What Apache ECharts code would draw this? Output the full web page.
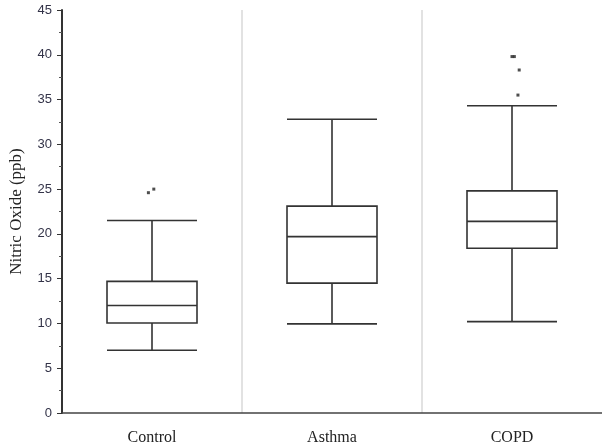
<!DOCTYPE html>
<html><head><meta charset="utf-8">
<script src="https://cdn.jsdelivr.net/npm/echarts@6/dist/echarts.min.js"></script>
<style>html,body{margin:0;padding:0;background:#fff}#c{width:602px;height:447px}</style>
</head><body><div id="c"></div>
<script>
const categories = ['Control', 'Asthma', 'COPD'];
// [lower whisker, Q1, median, Q3, upper whisker]
const boxValues = [
  [7.0, 10.05, 12.0, 14.7, 21.5],
  [9.95, 14.5, 19.7, 23.1, 32.8],
  [10.2, 18.4, 21.4, 24.8, 34.3]
];
// outliers
const outlierCats = ['Control', 'Control', 'COPD', 'COPD', 'COPD', 'COPD'];
const outlierVals = [24.6, 25.0, 39.8, 39.8, 38.3, 35.5];
const outlierOffsets = [-0.02, 0.01, 0.0, 0.013, 0.04, 0.033];
const yTicks = [0, 5, 10, 15, 20, 25, 30, 35, 40, 45];

const chart = echarts.init(document.getElementById('c'));
const outlierData = outlierCats.map((c, i) => [categories.indexOf(c) + outlierOffsets[i], outlierVals[i]]);
chart.setOption({
  animation: false,
  grid: { left: 59, right: 0, top: 10, bottom: 34 },
  xAxis: [{
    type: 'category',
    data: categories,
    boundaryGap: true,
    axisLine: { lineStyle: { color: '#444', width: 1.5 } },
    axisTick: { show: false },
    axisLabel: { color: '#222', fontFamily: 'Liberation Serif', fontSize: 16, margin: 17 },
    splitLine: { show: true, showMinLine: false, showMaxLine: false, lineStyle: { color: '#d8d8d8', width: 1.5 } }
  }, {
    type: 'value', min: -0.5, max: 2.5, show: false
  }],
  yAxis: {
    type: 'value', min: 0, max: 45, interval: 5,
    name: 'Nitric Oxide (ppb)', nameLocation: 'middle', nameGap: 37,
    nameTextStyle: { fontFamily: 'Liberation Serif', fontSize: 17, color: '#222' },
    axisLine: { show: true, onZero: false, lineStyle: { color: '#333', width: 2 } },
    axisTick: { show: true, length: 5, lineStyle: { color: '#333', width: 1 } },
    minorTick: { show: true, splitNumber: 2, length: 3, lineStyle: { color: '#555' } },
    axisLabel: { color: '#333348', fontFamily: 'Liberation Sans', fontSize: 13, margin: 10,
      formatter: v => yTicks.includes(v) ? String(v) : '' },
    splitLine: { show: false }
  },
  series: [{
    type: 'boxplot',
    data: boxValues,
    boxWidth: [90, 90],
    itemStyle: { color: '#fff', borderColor: '#333', borderWidth: 1.6 },
    emphasis: { disabled: true }
  }, {
    type: 'scatter',
    xAxisIndex: 1,
    data: outlierData,
    symbol: 'rect',
    symbolSize: 3,
    itemStyle: { color: '#222' }
  }]
});
</script></body></html>
